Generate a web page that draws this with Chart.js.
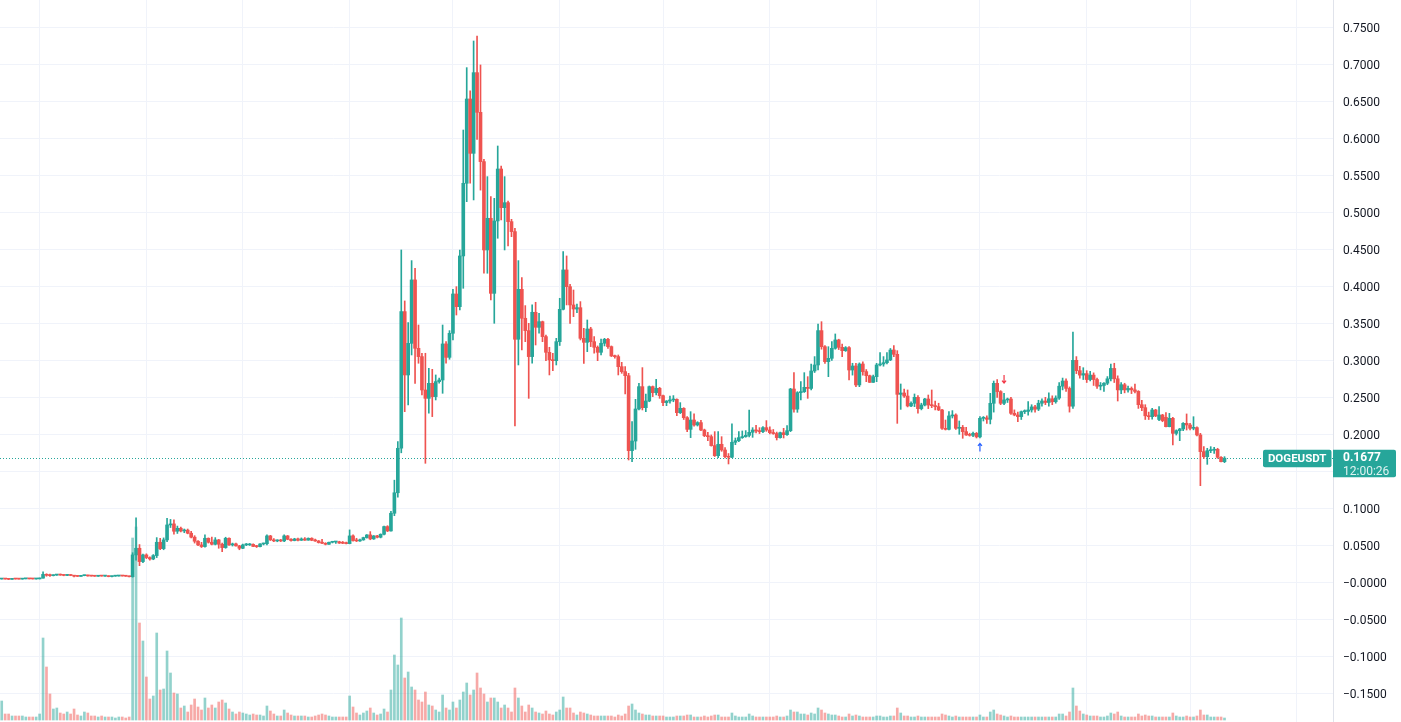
<!DOCTYPE html>
<html><head><meta charset="utf-8">
<script src="https://cdn.jsdelivr.net/npm/chart.js@4.4.1/dist/chart.umd.min.js"></script>
<style>html,body{margin:0;padding:0;background:#fff;overflow:hidden}canvas{display:block}</style>
</head><body>
<canvas id="c" width="1401" height="722"></canvas>
<script>
// ---- DATA (DOGEUSDT daily, from 2020-12-21) ----
const symbol = 'DOGEUSDT';
const countdown = '12:00:26';
const startDate = [2020, 11, 21];
const futureSlots = 31;
const priceTicks = [-0.15,-0.10,-0.05,0,0.05,0.10,0.15,0.20,0.25,0.30,0.35,0.40,0.45,0.50,0.55,0.60,0.65,0.70,0.75];

const opens = [
 .0044,.0046,.0044,.0040,.0045,.0044,.0043,.0047,.0048,.0046,.0045,
 .0046,.0056,.0107,.0095,.0090,.0098,.0103,.0097,.0093,.0100,.0092,.0083,.0080,.0090,.0094,.0086,.0084,.0082,.0089,.0084,.0086,.0077,.0083,.0085,.0088,.0085,.0082,.0075,.0370,.0460,.0280,
 .0370,.0334,.0315,.0361,.0541,.0455,.0573,.0775,.0789,.0690,.0730,.0694,.0705,.0663,.0610,.0555,.0505,.0483,.0595,.0541,.0514,.0573,.0514,.0469,.0595,.0505,.0519,.0492,
 .0460,.0505,.0505,.0512,.0485,.0482,.0518,.0522,.0627,.0573,.0559,.0568,.0559,.0627,.0581,.0564,.0586,.0568,.0586,.0570,.0595,.0568,.0559,.0537,.0528,.0514,.0541,.0545,.0548,.0530,.0528,
 .0523,.0627,.0564,.0559,.0573,.0604,.0640,.0586,.0627,.0609,.0649,.0753,.0694,.0933,.1210,.1811,.3658,.2802,.3229,.4086,.3162,.3050,.2599,.2486,.2689,.2509,.2712,.2734,.3221,.3040,
 .3365,.3896,.3725,.4410,.5392,.6531,.5797,.6887,.6351,.5685,.4491,.4919,.3905,.4883,.5585,.5063,.5130,.4874,.4739,.3284,.3959,.3568,.3401,.3050,.3649,.3446,.3522,.3320,.3108,.3005,.2995,
 .3252,.3689,.4221,.3995,.3748,.3693,.3711,.3297,.3243,.3423,.3252,.3176,.3108,.3230,.3284,.3185,.3059,.3050,.2914,.2847,.2792,.1779,.1909,.2342,.2644,.2360,.2450,.2644,.2563,.2621,
 .2522,.2428,.2450,.2464,.2473,.2292,.2351,.2225,.2067,.2193,.2126,.2158,.2058,.1982,.1968,.1847,.1711,.1865,.1788,.1698,.1690,.1892,.1914,.1955,.1968,.1986,.2027,.2058,.2045,.2036,.2090,
 .2058,.2022,.2010,.1955,.2022,.1995,.2049,.2612,.2340,.2563,.2576,.2635,.2620,.2856,.2937,.3401,.3184,.2982,.3027,.3162,.3275,.3175,.3130,.3171,.2869,.2923,.2667,.2950,.2847,.2792,.2702,
 .2779,.2937,.2950,.2968,.3005,.3139,.3081,.2540,.2558,.2517,.2383,.2419,.2500,.2347,.2396,.2477,.2396,.2387,.2374,.2329,.2081,.2067,.2248,.2261,.2081,.2094,.2036,.1991,.1986,.2013,
 .1965,.2216,.2221,.2203,.2419,.2689,.2577,.2419,.2464,.2477,.2284,.2261,.2239,.2306,.2310,.2329,.2370,.2340,.2420,.2450,.2430,.2480,.2440,.2490,.2650,.2720,.2620,.2380,.3000,.2860,.2800,
 .2820,.2740,.2800,.2740,.2650,.2660,.2690,.2750,.2890,.2750,.2600,.2670,.2600,.2620,.2600,.2580,.2400,.2360,.2250,.2238,.2329,.2200,.2261,.2230,.2103,.2216,.2013,.2049,.2072,.2148,
 .2126,.2081,.2090,.1991,.1766,.1698,.1779,.1785,.1797,.1689,.1630
];
const highs = [
 .0048,.0047,.0045,.0046,.0046,.0045,.0049,.0050,.0049,.0047,.0048,
 .0058,.0140,.0115,.0110,.0101,.0108,.0112,.0102,.0103,.0104,.0094,.0087,.0093,.0097,.0096,.0089,.0087,.0091,.0091,.0088,.0087,.0085,.0087,.0090,.0092,.0087,.0083,.0400,.0870,.0510,.0380,
 .0385,.0345,.0375,.0604,.0595,.0600,.0865,.0850,.0843,.0760,.0745,.0720,.0720,.0690,.0630,.0565,.0540,.0640,.0600,.0610,.0604,.0580,.0530,.0609,.0600,.0530,.0530,.0500,
 .0515,.0525,.0525,.0520,.0500,.0522,.0530,.0640,.0635,.0590,.0575,.0580,.0640,.0633,.0590,.0595,.0598,.0600,.0605,.0600,.0602,.0585,.0565,.0580,.0535,.0545,.0550,.0552,.0555,.0552,.0545,
 .0708,.0640,.0595,.0583,.0610,.0645,.0685,.0632,.0635,.0655,.0760,.0765,.0960,.1380,.1900,.4491,.3802,.3509,.4347,.4243,.3477,.3095,.3095,.2892,.2878,.2802,.2760,.3477,.3252,.3401,
 .3959,.3995,.4491,.6112,.6955,.6640,.7315,.7383,.6991,.5716,.5482,.5212,.5189,.5896,.5626,.5482,.5153,.4905,.4784,.4347,.4117,.3739,.3500,.3748,.3784,.3635,.3530,.3342,.3176,.3095,.3297,
 .3838,.4468,.4410,.4027,.3950,.3761,.3793,.3432,.3545,.3446,.3320,.3194,.3288,.3297,.3297,.3194,.3072,.3072,.2973,.2914,.2824,.2171,.2473,.2689,.2901,.2545,.2653,.2653,.2743,.2635,
 .2531,.2455,.2518,.2523,.2480,.2428,.2360,.2240,.2306,.2275,.2170,.2190,.2070,.2025,.1991,.2036,.2036,.1968,.1820,.1740,.2140,.1950,.2036,.2045,.2050,.2329,.2090,.2120,.2090,.2105,.2185,
 .2100,.2065,.2030,.2030,.2081,.2117,.2621,.2833,.2576,.2711,.2833,.2779,.2950,.3050,.3491,.3522,.3200,.3184,.3252,.3356,.3285,.3220,.3185,.3185,.2960,.2960,.2965,.2980,.2875,.2800,.2800,
 .2959,.3104,.3050,.3104,.3160,.3198,.3130,.2680,.2610,.2599,.2440,.2545,.2522,.2420,.2486,.2531,.2599,.2450,.2420,.2338,.2193,.2306,.2320,.2275,.2180,.2120,.2094,.2015,.2030,.2025,
 .2238,.2240,.2250,.2554,.2720,.2740,.2590,.2554,.2490,.2500,.2330,.2300,.2315,.2330,.2441,.2400,.2390,.2460,.2480,.2500,.2560,.2520,.2520,.2700,.2760,.2750,.2640,.3380,.3050,.2920,.2900,
 .2860,.2850,.2830,.2760,.2700,.2700,.2780,.2950,.2960,.2790,.2700,.2690,.2650,.2640,.2680,.2590,.2460,.2400,.2300,.2352,.2338,.2374,.2270,.2292,.2283,.2230,.2060,.2080,.2157,.2275,
 .2148,.2238,.2100,.2013,.1833,.1811,.1833,.1824,.1811,.1700,.1698
];
const lows = [
 .0043,.0043,.0037,.0039,.0043,.0042,.0042,.0046,.0045,.0044,.0044,
 .0045,.0055,.0082,.0078,.0086,.0094,.0095,.0088,.0091,.0089,.0072,.0078,.0079,.0088,.0083,.0083,.0080,.0081,.0083,.0078,.0074,.0072,.0081,.0084,.0084,.0080,.0072,.0070,.0300,.0225,.0265,
 .0320,.0300,.0305,.0334,.0440,.0440,.0550,.0740,.0650,.0660,.0680,.0670,.0655,.0600,.0530,.0496,.0470,.0475,.0530,.0505,.0505,.0460,.0415,.0460,.0500,.0490,.0488,.0440,
 .0455,.0495,.0498,.0480,.0470,.0478,.0505,.0505,.0565,.0550,.0548,.0550,.0550,.0575,.0555,.0560,.0560,.0565,.0565,.0568,.0562,.0552,.0530,.0522,.0505,.0512,.0532,.0525,.0525,.0522,.0518,
 .0520,.0555,.0550,.0552,.0568,.0595,.0575,.0580,.0600,.0600,.0640,.0685,.0690,.0900,.1150,.1750,.2306,.2396,.3072,.2689,.2960,.2531,.1608,.2284,.2239,.2464,.2690,.2554,.2960,.3014,
 .3275,.3612,.3680,.3973,.5144,.5392,.5167,.5986,.5300,.4176,.4176,.3815,.3500,.4649,.4896,.4491,.4545,.4671,.2113,.2937,.3140,.3252,.2486,.2960,.3207,.3365,.3252,.2995,.2802,.2860,.2937,
 .3200,.3680,.3748,.3500,.3590,.3644,.3275,.2959,.3117,.3185,.3095,.2995,.3072,.3194,.3162,.3050,.3030,.2802,.2824,.2544,.1653,.1630,.1797,.2330,.2329,.2306,.2440,.2509,.2531,.2486,
 .2387,.2387,.2419,.2440,.2252,.2280,.2200,.2036,.1955,.2110,.2112,.2050,.1968,.1914,.1840,.1700,.1684,.1770,.1680,.1599,.1684,.1860,.1900,.1945,.1960,.1965,.1959,.2020,.2010,.2022,.2040,
 .2005,.2000,.1923,.1948,.1950,.1985,.2036,.2300,.2297,.2464,.2565,.2486,.2599,.2835,.2869,.3150,.2959,.2779,.3000,.3150,.3145,.3050,.3120,.2734,.2800,.2644,.2644,.2800,.2711,.2700,.2700,
 .2711,.2925,.2920,.2950,.2995,.3050,.2148,.2337,.2500,.2370,.2374,.2374,.2284,.2330,.2383,.2347,.2360,.2330,.2320,.2065,.2058,.2058,.2220,.2067,.2000,.1946,.1985,.1975,.1968,.1950,
 .1950,.2180,.2148,.2140,.2300,.2500,.2400,.2400,.2430,.2270,.2250,.2171,.2200,.2280,.2260,.2300,.2300,.2320,.2380,.2400,.2380,.2400,.2420,.2470,.2600,.2580,.2300,.2350,.2820,.2760,.2740,
 .2700,.2720,.2660,.2620,.2600,.2580,.2670,.2720,.2700,.2450,.2550,.2560,.2570,.2550,.2560,.2350,.2320,.2200,.2200,.2203,.2238,.2185,.2170,.2100,.2100,.1856,.1990,.1914,.2050,.2058,
 .2058,.2060,.1977,.1306,.1675,.1594,.1752,.1743,.1675,.1626,.1617
];
const closes = [
 .0046,.0044,.0040,.0045,.0044,.0043,.0047,.0048,.0046,.0045,.0046,
 .0056,.0107,.0095,.0090,.0098,.0103,.0097,.0093,.0100,.0092,.0083,.0080,.0090,.0094,.0086,.0084,.0082,.0089,.0084,.0086,.0077,.0083,.0085,.0088,.0085,.0082,.0075,.0370,.0460,.0280,.0370,
 .0334,.0315,.0361,.0541,.0455,.0573,.0775,.0789,.0690,.0730,.0694,.0705,.0663,.0610,.0555,.0505,.0483,.0595,.0541,.0514,.0573,.0514,.0469,.0595,.0505,.0519,.0492,.0460,
 .0505,.0515,.0512,.0485,.0482,.0518,.0522,.0627,.0573,.0559,.0568,.0559,.0627,.0581,.0564,.0586,.0568,.0586,.0570,.0595,.0568,.0559,.0537,.0528,.0514,.0541,.0545,.0548,.0530,.0528,.0523,
 .0627,.0564,.0559,.0573,.0604,.0640,.0586,.0627,.0609,.0649,.0753,.0694,.0933,.1210,.1811,.3658,.2802,.3229,.4086,.3162,.3050,.2599,.2486,.2689,.2509,.2712,.2734,.3221,.3040,.3365,
 .3896,.3725,.4410,.5392,.6531,.5797,.6887,.6351,.5685,.4491,.4919,.3905,.4883,.5585,.5063,.5130,.4874,.4739,.3284,.3959,.3568,.3401,.3050,.3649,.3446,.3522,.3320,.3108,.3005,.2995,.3252,
 .3689,.4221,.3995,.3748,.3693,.3711,.3297,.3243,.3423,.3252,.3176,.3108,.3230,.3284,.3185,.3059,.3050,.2914,.2847,.2792,.1779,.1909,.2342,.2644,.2360,.2450,.2644,.2563,.2621,.2522,
 .2428,.2450,.2464,.2473,.2292,.2351,.2225,.2067,.2193,.2126,.2158,.2058,.1982,.1968,.1847,.1711,.1865,.1788,.1698,.1690,.1892,.1914,.1955,.1968,.1986,.2027,.2058,.2045,.2036,.2090,.2058,
 .2022,.2010,.1955,.2022,.1995,.2049,.2612,.2340,.2563,.2576,.2635,.2620,.2856,.2937,.3401,.3184,.2982,.3027,.3162,.3275,.3175,.3130,.3171,.2869,.2923,.2667,.2950,.2847,.2792,.2702,.2779,
 .2937,.2950,.2968,.3005,.3139,.3081,.2540,.2558,.2517,.2383,.2419,.2500,.2347,.2396,.2477,.2396,.2387,.2374,.2329,.2081,.2067,.2248,.2261,.2081,.2094,.2036,.1991,.1986,.2013,.1965,
 .2216,.2221,.2203,.2419,.2689,.2577,.2419,.2464,.2477,.2284,.2261,.2239,.2306,.2310,.2329,.2370,.2340,.2420,.2450,.2430,.2480,.2440,.2490,.2650,.2720,.2620,.2380,.3000,.2860,.2800,.2820,
 .2740,.2800,.2740,.2650,.2660,.2690,.2750,.2890,.2750,.2600,.2670,.2600,.2620,.2600,.2580,.2400,.2360,.2250,.2238,.2329,.2248,.2261,.2185,.2103,.2216,.2013,.2049,.2072,.2148,.2126,
 .2081,.2090,.1991,.1766,.1698,.1779,.1785,.1797,.1689,.1630,.1677
];
// volume (billions DOGE, approximate)
const volumes = [
 1.9,.6,.6,.4,.4,.4,.4,.3,.3,.3,.3,
 .6,8.2,5.3,2.6,1.1,1.2,.7,.6,.8,.6,1.1,.5,.4,.8,.7,.4,.4,.3,.4,.3,.3,.3,.2,.3,.3,.2,.3,18.2,19.3,9.7,7.9,
 4.3,2.1,2.4,8.7,3.0,3.1,6.9,4.7,2.7,2.6,1.2,1.4,.8,1.5,2.1,1.3,1.0,2.2,1.2,1.5,1.2,1.8,2.0,1.7,1.1,.8,.6,.8,
 .7,.6,.5,.6,.5,.5,.4,1.4,.9,.6,.4,.4,1.0,.7,.5,.4,.4,.4,.4,.3,.3,.4,.5,.6,.5,.4,.3,.3,.3,.3,.3,
 2.4,1.3,.7,.5,.7,.9,1.2,.7,.5,.6,1.1,.8,3.0,6.5,5.5,10.2,4.2,4.8,3.3,3.0,2.0,1.8,2.8,1.5,1.4,1.0,.8,2.5,1.2,1.0,
 1.8,1.2,2.0,2.8,3.7,2.5,3.0,4.7,3.2,2.6,1.8,2.2,2.2,1.8,1.2,1.5,1.2,.8,3.2,2.2,1.4,.8,1.5,1.2,.8,.7,.6,.9,.6,.5,.8,
 1.0,2.3,1.2,1.2,.7,.5,.8,.7,.6,.5,.4,.4,.4,.4,.4,.4,.3,.5,.4,.6,1.4,1.6,1.0,.7,.6,.5,.5,.4,.4,.4,
 .4,.3,.3,.3,.4,.4,.4,.5,.5,.3,.3,.3,.4,.3,.4,.5,.5,.3,.3,.3,.7,.4,.3,.3,.3,.6,.4,.3,.3,.3,.3,
 .3,.3,.4,.3,.3,.4,1.0,.8,.8,.6,.6,.5,.7,.6,1.2,1.0,.7,.6,.5,.5,.4,.3,.3,.6,.4,.5,.4,.3,.3,.3,.3,
 .4,.4,.3,.3,.4,.4,1.2,.7,.4,.4,.3,.3,.4,.3,.3,.3,.3,.3,.3,.6,.5,.4,.3,.4,.3,.3,.3,.3,.3,.3,
 .5,.3,.3,.8,1.0,.6,.5,.4,.3,.4,.3,.3,.3,.3,.3,.3,.3,.3,.3,.3,.3,.3,.3,.6,.6,.4,.8,3.2,1.4,.9,.6,
 .5,.4,.4,.4,.3,.3,.4,.7,.6,.8,.4,.3,.3,.3,.3,.6,.4,.5,.4,.4,.3,.3,.3,.3,.3,.7,.4,.3,.3,.4,
 .3,.3,.4,1.0,.5,.5,.3,.3,.3,.3,.2
];
// signal markers
const markerDates = ['2021-10-01', '2021-10-08'];
const markerPrices = [0.1822, 0.2747];
const markerDirs = ['up', 'down'];

// ---- STYLE ----
const UP = '#26a69a', DOWN = '#ef5350';
const UPV = 'rgba(38,166,154,0.5)', DOWNV = 'rgba(239,83,80,0.5)';
const GRID = '#f0f3fa';
const FONT = 'Roboto, "Liberation Sans", Arial, sans-serif';

const categories = [];
const t0 = Date.UTC(startDate[0], startDate[1], startDate[2]);
for (let i = 0; i < opens.length + futureSlots; i++) {
  categories.push(new Date(t0 + i * 86400000).toISOString().slice(0, 10));
}
const monthStart = categories.map(s => s.endsWith('-01'));
const isUp = i => closes[i] >= opens[i];
const fmt = v => Math.abs(v) < 1e-9 ? '\u22120.0000' : (v < 0 ? '\u2212' + Math.abs(v).toFixed(4) : v.toFixed(4));
const noPad = s => { s.paddingTop = 0; s.paddingBottom = 0; s.paddingLeft = 0; s.paddingRight = 0; };

const overlay = {
  id: 'overlay',
  beforeDatasetsDraw(chart) {
    const {ctx, chartArea: a, scales: {y}} = chart;
    const py = Math.round(y.getPixelForValue(closes[closes.length - 1])) + 0.5;
    ctx.save();
    ctx.strokeStyle = UP; ctx.lineWidth = 1; ctx.setLineDash([1, 2]);
    ctx.beginPath(); ctx.moveTo(a.left, py); ctx.lineTo(a.right, py); ctx.stroke();
    ctx.restore();
  },
  afterDatasetsDraw(chart) {
    const {ctx, scales: {x, y}} = chart;
    markerDates.forEach((d, k) => {
      const px = x.getPixelForValue(categories.indexOf(d));
      const py = y.getPixelForValue(markerPrices[k]);
      const s = markerDirs[k] === 'up' ? -1 : 1;
      ctx.save();
      ctx.strokeStyle = markerDirs[k] === 'up' ? '#2962ff' : '#f23645';
      ctx.lineWidth = 1.2;
      ctx.beginPath();
      ctx.moveTo(px, py - 4 * s); ctx.lineTo(px, py + 4 * s);
      ctx.moveTo(px - 2, py + 1.6 * s); ctx.lineTo(px, py + 4 * s); ctx.lineTo(px + 2, py + 1.6 * s);
      ctx.stroke();
      ctx.restore();
    });
  },
  afterDraw(chart) {
    const {ctx, chartArea: a, scales: {y}} = chart;
    const last = closes[closes.length - 1];
    const py = y.getPixelForValue(last);
    ctx.save();
    // symbol label
    ctx.fillStyle = UP;
    ctx.beginPath(); ctx.roundRect(a.right - 70, py - 8.5, 68.5, 17.5, 2); ctx.fill();
    ctx.fillStyle = '#ffffff';
    ctx.font = 'bold 11.5px ' + FONT; ctx.textAlign = 'center'; ctx.textBaseline = 'middle';
    ctx.fillText(symbol, a.right - 35.8, py + 0.5);
    // price label on axis
    ctx.fillStyle = UP;
    ctx.beginPath(); ctx.roundRect(a.right, py - 8.5, 63, 27.5, [0, 2, 2, 0]); ctx.fill();
    ctx.textAlign = 'left';
    ctx.fillStyle = '#ffffff';
    ctx.font = 'bold 12px ' + FONT;
    ctx.fillText(last.toFixed(4), a.right + 10, py - 0.5);
    ctx.fillStyle = 'rgba(255,255,255,0.85)';
    ctx.font = '12px ' + FONT;
    ctx.fillText(countdown, a.right + 10, py + 13.5);
    ctx.restore();
  }
};

Chart.defaults.font.family = FONT;
Chart.defaults.font.size = 12;
Chart.defaults.color = '#131722';

new Chart(document.getElementById('c'), {
  type: 'bar',
  data: {
    labels: categories,
    datasets: [
      { label: 'Body', data: opens.map((o, i) => [o, closes[i]]), yAxisID: 'y', grouped: false, order: 1,
        barThickness: 3, minBarLength: 1, borderWidth: 0, borderSkipped: false,
        backgroundColor: c => isUp(c.dataIndex) ? UP : DOWN },
      { label: 'Wick', data: lows.map((l, i) => [l, highs[i]]), yAxisID: 'y', grouped: false, order: 2,
        barThickness: 1, borderWidth: 0, borderSkipped: false,
        backgroundColor: c => isUp(c.dataIndex) ? UP : DOWN },
      { label: 'Volume', data: volumes, yAxisID: 'yv', grouped: false, order: 3,
        barThickness: 2, borderWidth: 0,
        backgroundColor: c => isUp(c.dataIndex) ? UPV : DOWNV }
    ]
  },
  options: {
    responsive: false, animation: false, devicePixelRatio: 1,
    layout: { padding: 0 },
    plugins: { legend: { display: false }, tooltip: { enabled: false } },
    events: [],
    scales: {
      x: {
        type: 'category', offset: true,
        grid: { offset: false, drawTicks: false, lineWidth: 1,
          color: c => monthStart[c.index] ? GRID : 'rgba(0,0,0,0)' },
        border: { display: false },
        ticks: { display: false, autoSkip: false, padding: 0 },
        afterFit: s => { s.height = 0; noPad(s); }
      },
      y: {
        position: 'right', min: -0.18878, max: 0.78689,
        afterBuildTicks: s => { s.ticks = priceTicks.map(v => ({ value: v })); },
        ticks: { padding: 10, labelOffset: 1.5, callback: v => fmt(v), font: { size: 12 }, color: '#131722' },
        grid: { color: GRID, drawTicks: false },
        border: { display: true, color: '#e0e3eb' },
        afterFit: s => { s.width = 68; noPad(s); }
      },
      yv: { display: false, min: -0.2, max: 72.0 }
    }
  },
  plugins: [overlay]
});
</script>
</body></html>
